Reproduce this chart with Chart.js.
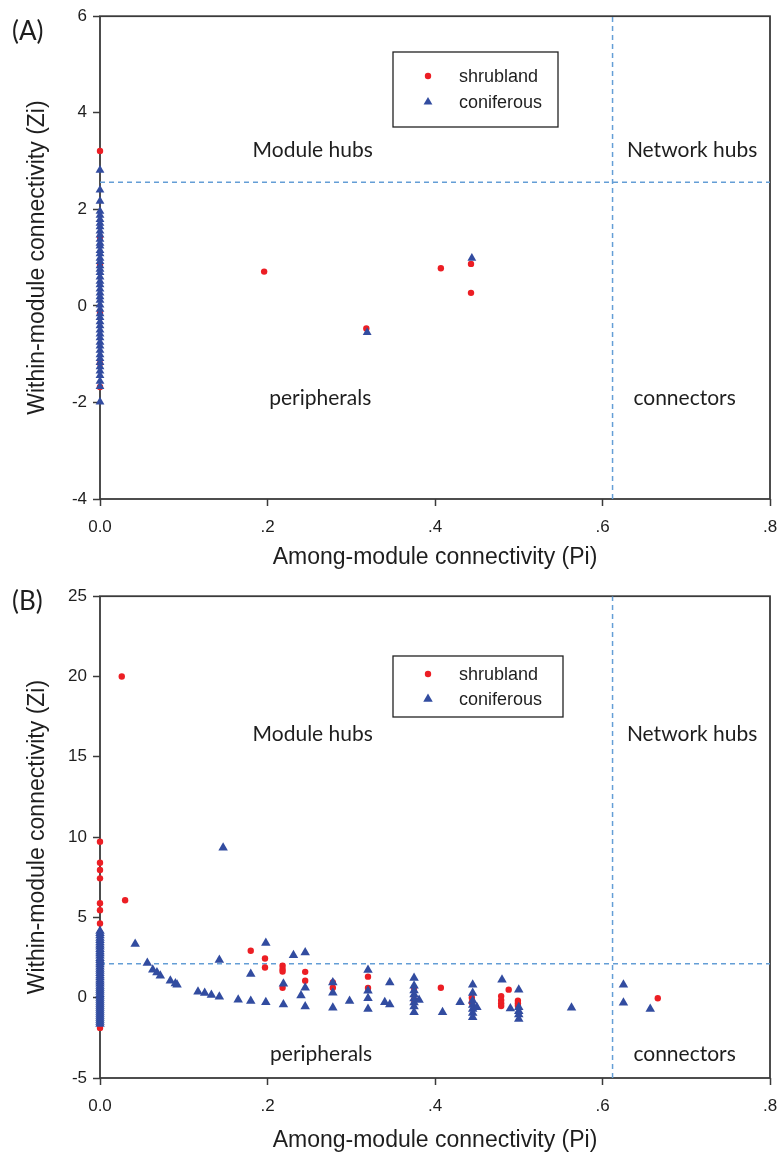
<!DOCTYPE html>
<html>
<head>
<meta charset="utf-8">
<script src="https://cdn.jsdelivr.net/npm/chart.js@4.4.1/dist/chart.umd.min.js"></script>
<style>
  html, body { margin: 0; padding: 0; background: #fff; }
  body { width: 783px; height: 1163px; position: relative; overflow: hidden; }
  .panel { position: absolute; left: 0; width: 783px; }
  #wrapA { top: 0; height: 580px; }
  #wrapB { top: 580px; height: 583px; }
</style>
</head>
<body>
<div class="panel" id="wrapA"><canvas id="chartA" width="783" height="580"></canvas></div>
<div class="panel" id="wrapB"><canvas id="chartB" width="783" height="583"></canvas></div>
<script>
// Zi-Pi plots of module roles, shrubland vs coniferous networks

// (A) Zi of nodes sitting at Pi = 0
const shrublandA_axis = [3.21, 1.43, 0.85, -0.15, -1.19, -1.68]
const coniferousA_axis = [2.81, 2.40, 2.17, 1.96, 1.88, 1.79, 1.71, 1.64, 1.55, 1.47, 1.38, 1.30,
  1.24, 1.15, 1.08, 0.99, 0.92, 0.83, 0.76, 0.69, 0.60, 0.51, 0.44, 0.35, 0.27, 0.19, 0.12, 0.02,
  -0.07, -0.16, -0.24, -0.33, -0.41, -0.50, -0.58, -0.66, -0.75, -0.83, -0.92, -1.01, -1.09,
  -1.17, -1.26, -1.35, -1.44, -1.56, -1.67, -1.99]
// (A) remaining nodes as [Pi, Zi]
const shrublandA = [[0.196, 0.71], [0.318, -0.47], [0.407, 0.78], [0.443, 0.87], [0.443, 0.27]]
const coniferousA = [[0.319, -0.55], [0.444, 0.99]]

// (B) Zi of nodes sitting at Pi = 0
const shrublandB_axis = [9.71, 8.40, 7.95, 7.43, 5.88, 5.45, 4.62, 4.05, 3.20, 2.10, 0.90, -0.60, -1.88]
const coniferousB_axis = [4.16, 4.02, 3.88, 3.71, 3.58, 3.44, 3.29, 3.17, 3.02, 2.87, 2.75, 2.61,
  2.46, 2.33, 2.19, 2.06, 1.93, 1.78, 1.66, 1.52, 1.39, 1.26, 1.12, 0.99, 0.87, 0.73, 0.61, 0.48,
  0.36, 0.22, 0.11, -0.02, -0.14, -0.27, -0.39, -0.52, -0.64, -0.77, -0.89, -1.01, -1.14, -1.27,
  -1.39, -1.51, -1.64]
// (B) remaining nodes as [Pi, Zi]
const shrublandB = [
  [0.026, 20.0], [0.030, 6.07], [0.180, 2.92], [0.197, 2.44], [0.197, 1.88],
  [0.218, 1.99], [0.218, 1.78], [0.218, 1.63], [0.218, 0.62], [0.245, 1.61], [0.245, 1.06],
  [0.278, 0.95], [0.278, 0.62], [0.320, 1.31], [0.320, 0.60], [0.375, 0.60], [0.375, -0.12],
  [0.407, 0.62], [0.444, 0.00], [0.444, -0.30], [0.479, 0.10], [0.479, -0.15], [0.479, -0.35],
  [0.479, -0.52], [0.488, 0.50], [0.499, -0.19], [0.499, -0.35], [0.499, -0.50], [0.666, -0.03]
]
const coniferousB = [
  [0.042, 3.35], [0.0565, 2.16], [0.063, 1.74], [0.068, 1.57], [0.072, 1.37], [0.084, 1.06],
  [0.090, 0.89], [0.092, 0.81], [0.117, 0.37], [0.125, 0.29], [0.133, 0.17], [0.1425, 0.06],
  [0.1425, 2.34], [0.147, 9.34], [0.165, -0.12], [0.180, 1.47], [0.180, -0.21], [0.198, 3.40],
  [0.198, -0.29], [0.219, 0.87], [0.219, -0.43], [0.231, 2.65], [0.245, 2.81], [0.245, 0.62],
  [0.240, 0.14], [0.245, -0.55], [0.278, 0.95], [0.278, 0.31], [0.278, -0.62], [0.298, -0.21],
  [0.320, 1.72], [0.320, 0.43], [0.320, -0.04], [0.320, -0.70], [0.340, -0.29], [0.346, -0.43],
  [0.346, 0.95], [0.375, 1.22], [0.375, 0.75], [0.375, 0.45], [0.375, 0.20], [0.375, -0.05],
  [0.375, -0.30], [0.375, -0.55], [0.375, -0.91], [0.381, -0.14], [0.409, -0.91], [0.430, -0.29],
  [0.445, 0.81], [0.445, 0.30], [0.445, -0.19], [0.445, -0.45], [0.445, -0.70], [0.445, -0.95],
  [0.445, -1.22], [0.450, -0.60], [0.480, 1.12], [0.490, -0.68], [0.500, 0.50], [0.500, -0.60],
  [0.500, -0.85], [0.500, -1.05], [0.500, -1.32], [0.563, -0.62], [0.625, 0.80], [0.625, -0.31],
  [0.657, -0.70]
]

// role thresholds drawn as dashed lines
const piCut = 0.612
const ziCutA = 2.56
const ziCutB = 2.12

const RED = 'rgb(236, 30, 36)'
const BLUE = 'rgb(50, 76, 160)'
const DASH = 'rgb(100, 158, 214)'
const INK = '#1e1e1e'
const TEXT_FONT = '"Liberation Sans", Arial, sans-serif'
const ROLE_FONT = 'Lato, "Open Sans", sans-serif'

const toPoints = (axis, pairs) =>
  axis.map(z => ({ x: 0, y: z })).concat(pairs.map(([x, y]) => ({ x, y })))

// frame, quadrant names, legend box and panel tag
const decorPlugin = {
  id: 'decor',
  beforeDatasetsDraw(chart, args, o) {
    const { ctx, chartArea: a } = chart
    ctx.save()
    ctx.strokeStyle = '#3a3a3a'
    ctx.lineWidth = 1.8
    ctx.strokeRect(a.left, a.top, a.right - a.left, a.bottom - a.top)
    ctx.restore()
  },
  afterDatasetsDraw(chart, args, o) {
    const { ctx } = chart
    const xs = chart.scales.x, ys = chart.scales.y
    ctx.save()
    ctx.fillStyle = INK
    ctx.textAlign = 'center'
    ctx.textBaseline = 'middle'
    ctx.font = '21px ' + ROLE_FONT
    o.roles.forEach(r => {
      ctx.fillText(r.text, xs.getPixelForValue(r.x), ys.getPixelForValue(r.y))
    })

    // legend
    const L = o.legend
    ctx.fillStyle = '#fff'
    ctx.fillRect(L.x, L.y, L.w, L.h)
    ctx.strokeStyle = '#222'
    ctx.lineWidth = 1.3
    ctx.strokeRect(L.x, L.y, L.w, L.h)
    ctx.font = '18px ' + TEXT_FONT
    ctx.textAlign = 'left'
    chart.data.datasets.slice(0, 2).forEach((ds, i) => {
      const cy = L.y + L.row0 + i * L.gap
      ctx.fillStyle = ds.backgroundColor
      Chart.helpers.drawPoint(ctx, {
        pointStyle: ds.pointStyle, radius: ds.pointRadius, rotation: 0, borderWidth: 0
      }, L.x + 35, cy)
      ctx.fillStyle = INK
      ctx.fillText(ds.label, L.x + 66, cy + 1)
    })

    ctx.font = '26px ' + ROLE_FONT
    ctx.fillStyle = INK
    ctx.fillText(o.tag, 12, o.tagY)
    ctx.restore()
  }
}

function buildPanel(canvasId, p) {
  return new Chart(document.getElementById(canvasId), {
    type: 'scatter',
    data: {
      datasets: [
        {
          label: 'shrubland',
          data: toPoints(p.shrubAxis, p.shrub),
          pointStyle: 'circle',
          pointRadius: p.dotR,
          backgroundColor: RED,
          borderWidth: 0,
          clip: false,
          order: 2
        },
        {
          label: 'coniferous',
          data: toPoints(p.conifAxis, p.conif),
          pointStyle: 'triangle',
          pointRadius: p.triR,
          backgroundColor: BLUE,
          borderWidth: 0,
          clip: false,
          order: 1
        },
        {
          type: 'line',
          data: [{ x: 0, y: p.ziCut }, { x: 0.8, y: p.ziCut }],
          borderColor: DASH, borderWidth: 1.5, borderDash: [5, 4], pointRadius: 0, order: 3
        },
        {
          type: 'line',
          data: [{ x: piCut, y: p.yMin }, { x: piCut, y: p.yMax }],
          borderColor: DASH, borderWidth: 1.5, borderDash: [5, 4], pointRadius: 0, order: 3
        }
      ]
    },
    options: {
      responsive: false,
      animation: false,
      events: [],
      layout: { padding: { top: p.padTop, right: 13, left: 0, bottom: 0 } },
      scales: {
        x: {
          type: 'linear',
          min: 0,
          max: 0.8,
          // fixed axis band; the ".8" label may spill into the right margin
          afterFit: s => { s.height = p.xAxisH; s.paddingRight = 0 },
          border: { display: false },
          grid: { drawOnChartArea: false, drawTicks: true, tickLength: 7, tickColor: '#3a3a3a', tickWidth: 1.5 },
          ticks: {
            stepSize: 0.2,
            padding: 11,
            color: INK,
            font: { family: TEXT_FONT, size: 17 },
            callback: v => v === 0 ? '0.0' : v.toFixed(1).replace(/^0/, '')
          },
          title: {
            display: true,
            text: 'Among-module connectivity (Pi)',
            color: INK,
            font: { family: TEXT_FONT, size: 23 },
            padding: { top: 0, bottom: 9 }
          }
        },
        y: {
          type: 'linear',
          min: p.yMin,
          max: p.yMax,
          afterFit: s => { s.width = 100 },
          border: { display: false },
          grid: { drawOnChartArea: false, drawTicks: true, tickLength: 7, tickColor: '#3a3a3a', tickWidth: 1.5 },
          ticks: {
            stepSize: p.yStep,
            padding: 6,
            color: INK,
            font: { family: TEXT_FONT, size: 17 },
            callback: v => String(v)
          },
          title: {
            display: true,
            text: 'Within-module connectivity (Zi)',
            color: INK,
            font: { family: TEXT_FONT, size: 23 },
            padding: { top: 24, bottom: 0 }
          }
        }
      },
      plugins: {
        legend: { display: false },
        tooltip: { enabled: false },
        decor: { roles: p.roles, legend: p.legend, tag: p.tag, tagY: p.tagY }
      }
    },
    plugins: [decorPlugin]
  })
}

buildPanel('chartA', {
  shrubAxis: shrublandA_axis, shrub: shrublandA,
  conifAxis: coniferousA_axis, conif: coniferousA,
  ziCut: ziCutA, yMin: -4, yMax: 6, yStep: 2,
  dotR: 3.2, triR: 5.1,
  padTop: 16, xAxisH: 81,
  tag: '(A)', tagY: 32,
  legend: { x: 393, y: 52, w: 165, h: 75, row0: 24, gap: 26 },
  roles: [
    { text: 'Module hubs', x: 0.254, y: 3.23 },
    { text: 'Network hubs', x: 0.707, y: 3.23 },
    { text: 'peripherals', x: 0.263, y: -1.91 },
    { text: 'connectors', x: 0.698, y: -1.91 }
  ]
})

buildPanel('chartB', {
  shrubAxis: shrublandB_axis, shrub: shrublandB,
  conifAxis: coniferousB_axis, conif: coniferousB,
  ziCut: ziCutB, yMin: -5, yMax: 25, yStep: 5,
  dotR: 3.2, triR: 5.5,
  padTop: 15, xAxisH: 85,
  tag: '(B)', tagY: 22,
  legend: { x: 393, y: 76, w: 170, h: 61, row0: 18, gap: 25 },
  roles: [
    { text: 'Module hubs', x: 0.254, y: 16.4 },
    { text: 'Network hubs', x: 0.707, y: 16.4 },
    { text: 'peripherals', x: 0.264, y: -3.5 },
    { text: 'connectors', x: 0.698, y: -3.5 }
  ]
})
</script>
</body>
</html>
